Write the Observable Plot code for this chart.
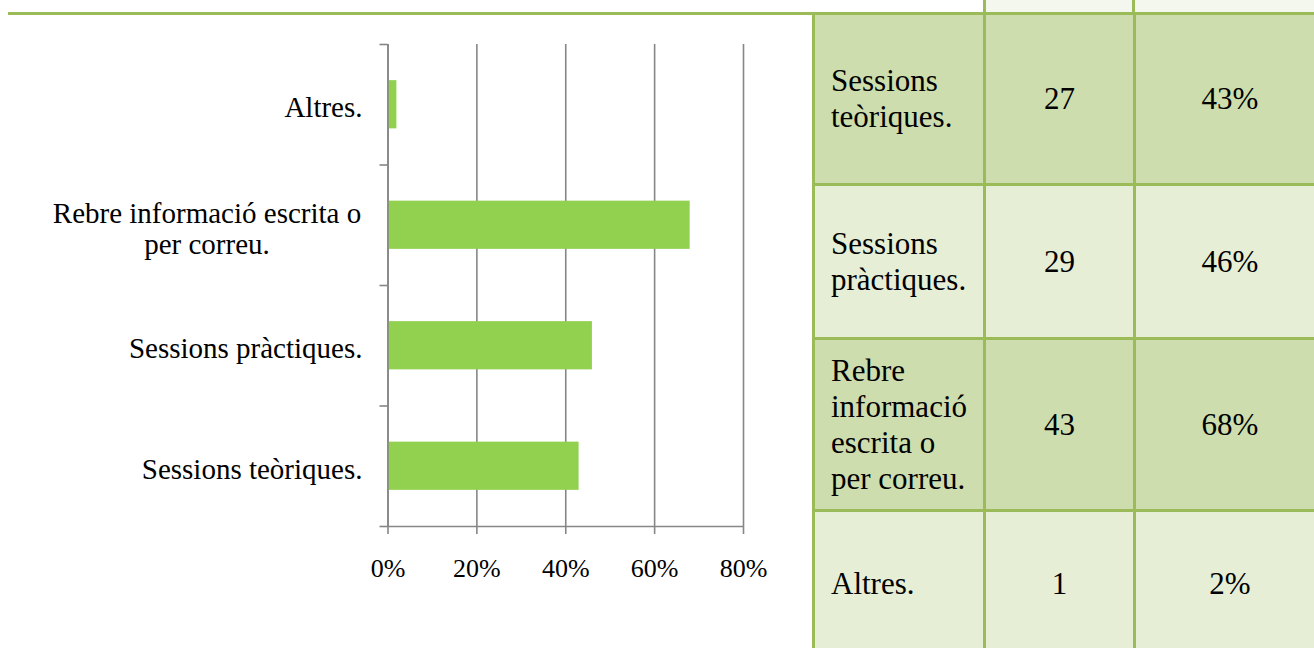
<!DOCTYPE html>
<html>
<head>
<meta charset="utf-8">
<script src="https://cdn.jsdelivr.net/npm/d3@7"></script>
<script src="https://cdn.jsdelivr.net/npm/@observablehq/plot@0.6"></script>
<style>
  html, body { margin: 0; padding: 0; background: #fff; overflow: hidden; }
  #page { position: relative; width: 1314px; height: 648px; overflow: hidden; font-family: "Liberation Serif", "Times New Roman", serif; }
  #topline { position: absolute; left: 8px; top: 12px; width: 1306px; height: 3px; background: #9BBB59; }
  #chart { position: absolute; left: 0; top: 0; }
  #hdr { position: absolute; left: 983px; top: 0; width: 340px; height: 12px; background: #F4F7EE; border-left: 3px solid #9BBB59; box-sizing: border-box; }
  #hdr2 { position: absolute; left: 1132px; top: 0; width: 3px; height: 12px; background: #9BBB59; }
  #tbl { position: absolute; left: 812px; top: 12px; display: grid; background: #9BBB59; padding: 3px 3px 3px 3px;
         grid-template-columns: 168px 147px 188px; grid-template-rows: 168px 151px 169px 143px; gap: 3px; }
  #tbl div { display: flex; align-items: center; font-size: 31px; line-height: 36px; color: #000; box-sizing: border-box; }
  #tbl .c0 { padding: 0 12px 0 16px; }
  #tbl .c1, #tbl .c2 { justify-content: center; }
  #tbl .dark { background: #CEDDAD; }
  #tbl .light { background: #E6EED6; }
</style>
</head>
<body>
<div id="page">
  <div id="chart"></div>
  <div id="hdr"></div>
  <div id="hdr2"></div>
  <div id="tbl"></div>
  <div id="topline"></div>
</div>
<script>
// ---- data (bottom-to-top in the chart, top-to-bottom in the table) ----
const categories = ["Sessions teòriques.", "Sessions pràctiques.", "Rebre informació escrita o per correu.", "Altres."];
const chartLabels = ["Sessions teòriques.", "Sessions pràctiques.", "Rebre informació escrita o\nper correu.", "Altres."];
const counts = [27, 29, 43, 1];
const percents = [43, 46, 68, 2];
const xTicks = [0, 20, 40, 60, 80];
const yBoundaries = [0, 1, 2, 3, 4];

const rows = categories.map((c, i) => ({i, category: c, label: chartLabels[i], count: counts[i], pct: percents[i]}));

const gray = "#868686";
const sw = 1.6;
const chart = Plot.plot({
  width: 814,
  height: 648,
  marginLeft: 387.5,
  marginRight: 71,
  marginTop: 44,
  marginBottom: 122,
  x: {domain: [0, 80]},
  y: {domain: [0, 4]},
  style: {fontFamily: "'Liberation Serif', 'Times New Roman', serif", fontSize: "26px", color: "#000", background: "transparent"},
  marks: [
    Plot.ruleX(xTicks, {stroke: gray, strokeWidth: sw}),
    Plot.rectX(rows, {x1: 0, x2: "pct", y1: d => d.i + 0.3, y2: d => d.i + 0.7, fill: "#92D050"}),
    Plot.ruleX([0], {stroke: gray, strokeWidth: sw}),
    Plot.ruleY([0], {stroke: gray, strokeWidth: sw}),
    Plot.axisY({ticks: yBoundaries, tickSize: 8, tickFormat: () => "", stroke: gray, strokeWidth: sw, label: null}),
    Plot.axisX({ticks: xTicks, tickSize: 8, tickPadding: 24, tickFormat: d => d + "%", stroke: gray, strokeWidth: sw, fill: "#000", label: null}),
    Plot.text(rows.filter(d => !d.label.includes("\n")), {
      y: d => d.i + 0.5, text: "label", frameAnchor: "left", textAnchor: "end", dx: -25.5, dy: 3,
      fontSize: 29, fill: "#000", lineAnchor: "middle"
    }),
    Plot.text(rows.filter(d => d.label.includes("\n")), {
      y: d => d.i + 0.5, text: "label", frameAnchor: "left", textAnchor: "middle", dx: -181, dy: 3,
      fontSize: 29, fill: "#000", lineAnchor: "middle", lineHeight: 1.1
    })
  ]
});
document.getElementById("chart").appendChild(chart);

// ---- table ----
const tbl = document.getElementById("tbl");
rows.forEach((r, k) => {
  const band = k % 2 === 0 ? "dark" : "light";
  const cells = [r.category, String(r.count), r.pct + "%"];
  cells.forEach((t, j) => {
    const d = document.createElement("div");
    d.className = "c" + j + " " + band;
    d.textContent = t;
    tbl.appendChild(d);
  });
});
</script>
</body>
</html>
